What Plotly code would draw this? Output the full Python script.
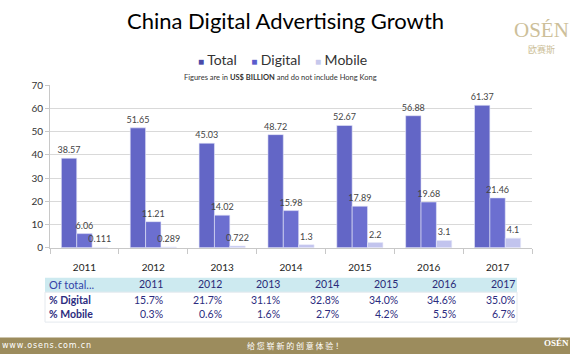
import plotly.graph_objects as go

years = ["2011", "2012", "2013", "2014", "2015", "2016", "2017"]
total = [38.57, 51.65, 45.03, 48.72, 52.67, 56.88, 61.37]
digital = [6.06, 11.21, 14.02, 15.98, 17.89, 19.68, 21.46]
mobile = [0.111, 0.289, 0.722, 1.3, 2.2, 3.1, 4.1]
total_labels = ["38.57", "51.65", "45.03", "48.72", "52.67", "56.88", "61.37"]
digital_labels = ["6.06", "11.21", "14.02", "15.98", "17.89", "19.68", "21.46"]
mobile_labels = ["0.111", "0.289", "0.722", "1.3", "2.2", "3.1", "4.1"]
pct_digital = ["15.7%", "21.7%", "31.1%", "32.8%", "34.0%", "34.6%", "35.0%"]
pct_mobile = ["0.3%", "0.6%", "1.6%", "2.7%", "4.2%", "5.5%", "6.7%"]
y_ticks = [0, 10, 20, 30, 40, 50, 60, 70]
series_names = ["Total", "Digital", "Mobile"]
table_header = "Of total..."
table_rows = ["% Digital", "% Mobile"]

FONT = "Lato"
W, H = 570, 360

def px(y):
    return 1 - y / H

def pxx(x):
    return x / W

bar_colors = ["#6366c6", "#6c6fd0", "#c2c4ee"]
legend_colors = ["#4a4aa8", "#5a5ccc", "#c6c8ec"]

fig = go.Figure()
for name, vals, labels, col in zip(series_names, [total, digital, mobile],
                                   [total_labels, digital_labels, mobile_labels], bar_colors):
    fig.add_trace(go.Bar(
        name=name, x=years, y=vals, text=labels, textposition="outside",
        constraintext="none",
        textfont=dict(size=9, color="#444444", family=FONT),
        marker=dict(color=col, line=dict(color="#e6e7f8", width=0.6)),
        cliponaxis=False, showlegend=False,
    ))

fig.update_layout(
    width=W, height=H,
    margin=dict(l=0, r=0, t=0, b=0),
    paper_bgcolor="white", plot_bgcolor="white",
    barmode="group", bargap=0.33, bargroupgap=0,
    font=dict(family=FONT, color="#333333"),
    showlegend=False, hovermode=False,
    xaxis=dict(
        domain=[50 / W, 532 / W], type="category",
        showgrid=False, showline=True, linecolor="#c8c8c8", linewidth=1,
        ticks="outside", tickson="boundaries", ticklen=5, tickcolor="#c8c8c8",
        ticklabelstandoff=10,
        tickfont=dict(size=10, color="#222222", family=FONT),
    ),
    yaxis=dict(
        domain=[px(250), px(82)], range=[0, 70],
        tickvals=y_ticks, showgrid=True, gridcolor="#d9d9d9", gridwidth=1,
        showline=True, linecolor="#c8c8c8", ticks="outside", ticklen=4,
        tickcolor="#c8c8c8", zeroline=False,
        tickfont=dict(size=10, color="#333333", family=FONT),
    ),
)

# ---- summary table (header band + text cells) ----
TBL_L, TBL_R = 45, 517
FIRST_COL_RIGHT = 165
COL_STEP = (TBL_R - FIRST_COL_RIGHT) / (len(years) - 1)
fig.add_shape(type="rect", xref="paper", yref="paper",
              x0=pxx(TBL_L), x1=pxx(TBL_R), y0=px(296), y1=px(281),
              fillcolor="#cdeaf0", line=dict(width=0), layer="below")
fig.add_shape(type="rect", xref="paper", yref="paper",
              x0=pxx(TBL_L), x1=pxx(TBL_R), y0=px(327), y1=px(296),
              fillcolor="rgba(0,0,0,0)", line=dict(color="#e4e9ee", width=1), layer="below")
header_y, row_ys = 288, [304, 319]
fig.add_annotation(text=table_header, x=pxx(47), y=px(header_y), xref="paper", yref="paper",
                   showarrow=False, xanchor="left", yanchor="middle",
                   font=dict(size=11, color="#3444a8", family=FONT))
for i, yr in enumerate(years):
    fig.add_annotation(text=yr, x=pxx(FIRST_COL_RIGHT + i * COL_STEP), y=px(header_y),
                       xref="paper", yref="paper", showarrow=False,
                       xanchor="right", yanchor="middle",
                       font=dict(size=10.5, color="#2a2a78", family=FONT))
for label, vals, ry in zip(table_rows, [pct_digital, pct_mobile], row_ys):
    fig.add_annotation(text=f"<b>{label}</b>", x=pxx(47), y=px(ry), xref="paper", yref="paper",
                       showarrow=False, xanchor="left", yanchor="middle",
                       font=dict(size=10.5, color="#2c2c80", family=FONT))
    for i, v in enumerate(vals):
        fig.add_annotation(text=v, x=pxx(FIRST_COL_RIGHT + i * COL_STEP), y=px(ry),
                           xref="paper", yref="paper", showarrow=False,
                           xanchor="right", yanchor="middle",
                           font=dict(size=10.5, color="#2c2c80", family=FONT))

# title
fig.add_annotation(
    text="China Digital Advertising Growth", x=285 / W, y=px(15),
    xref="paper", yref="paper", showarrow=False, xanchor="center", yanchor="middle",
    font=dict(size=22, color="#000000", family=FONT),
)
# legend (coloured squares + names)
legend_text = "&nbsp;&nbsp;&nbsp;&nbsp;".join(
    f"<span style='color:{c};font-size:10px'>■</span>&nbsp;{n}"
    for n, c in zip(series_names, legend_colors)
)
fig.add_annotation(
    text=legend_text, x=282 / W, y=px(55), xref="paper", yref="paper", showarrow=False,
    xanchor="center", yanchor="middle",
    font=dict(size=14, color="#333333", family=FONT),
)
# subtitle
fig.add_annotation(
    text="Figures are in <b>US$ BILLION</b> and do not include Hong Kong",
    x=280 / W, y=px(74), xref="paper", yref="paper", showarrow=False,
    xanchor="center", yanchor="middle",
    font=dict(size=7.5, color="#333333", family=FONT),
)
# top-right logo
fig.add_annotation(
    text="OSÉN", x=571 / W, y=px(25), xref="paper", yref="paper", showarrow=False,
    xanchor="right", yanchor="middle",
    font=dict(size=21, color="#cdbf9a", family="Liberation Serif"),
)
fig.add_annotation(
    text="欧赛斯", x=541 / W, y=px(45), xref="paper", yref="paper", showarrow=False,
    xanchor="center", yanchor="middle",
    font=dict(size=9, color="#cdbf9a", family="Noto Sans CJK SC"),
)
# footer band
fig.add_shape(type="rect", xref="paper", yref="paper", x0=0, x1=1, y0=0, y1=px(343),
              fillcolor="#9c8c5d", line=dict(width=0), layer="below")
fig.add_annotation(
    text="\u200a".join("www.osens.com.cn"), x=0, y=px(351.5), xref="paper", yref="paper",
    showarrow=False, xanchor="left", yanchor="middle",
    font=dict(size=8, color="#ffffff", family="DejaVu Sans"),
)
fig.add_annotation(
    text="给 您 崭 新 的 创 意 体 验 ！", x=295 / W, y=px(351.5), xref="paper", yref="paper",
    showarrow=False, xanchor="center", yanchor="middle",
    font=dict(size=8, color="#ffffff", family="Noto Sans CJK SC"),
)
fig.add_annotation(
    text="<b>OSÉN</b>", x=571 / W, y=px(349), xref="paper", yref="paper",
    showarrow=False, xanchor="right", yanchor="middle",
    font=dict(size=9, color="#ffffff", family="Liberation Serif"),
)

fig.write_html(
    "out.html",
    config={"displayModeBar": False},
    post_script="document.body.style.margin='0';document.body.style.overflow='hidden';",
)
